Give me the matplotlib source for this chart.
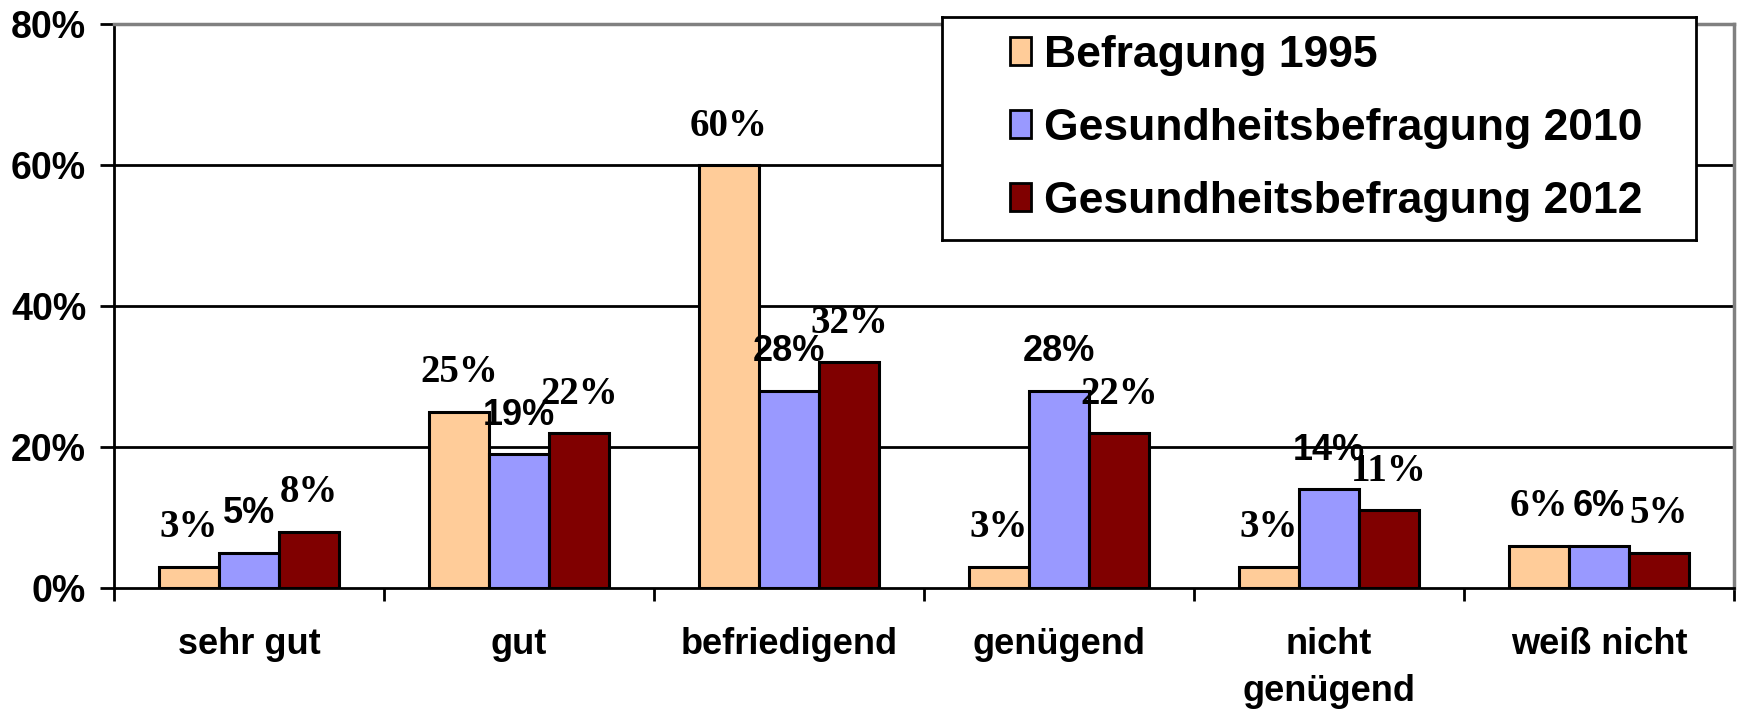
import matplotlib.pyplot as plt
from matplotlib.patches import Patch
import numpy as np

# Survey answers per rating category (share of respondents, in %)
categories = ["sehr gut", "gut", "befriedigend", "genügend", "nicht\ngenügend", "weiß nicht"]
series_names = ["Befragung 1995", "Gesundheitsbefragung 2010", "Gesundheitsbefragung 2012"]
values_1995 = [3, 25, 60, 3, 3, 6]
values_2010 = [5, 19, 28, 28, 14, 6]
values_2012 = [8, 22, 32, 22, 11, 5]
yticks = [0, 20, 40, 60, 80]

colors = ["#FFCC99", "#9999FF", "#800000"]
label_fonts = ["Liberation Serif", "Liberation Sans", "Liberation Serif"]
label_sizes = [28, 26, 28]

W, H = 1737, 710
fig = plt.figure(figsize=(W / 100, H / 100), dpi=100)
ax = fig.add_axes([114 / W, 1 - 588 / H, 1620 / W, 564 / H])

x = np.arange(len(categories))
width = 0.222
all_values = [values_1995, values_2010, values_2012]

for i, (vals, col, name) in enumerate(zip(all_values, colors, series_names)):
    pos = x + (i - 1) * width
    ax.bar(pos, vals, width, color=col, edgecolor="black", linewidth=2.2,
           label=name, zorder=3)
    # value labels above each bar
    for px, v in zip(pos, vals):
        ax.annotate(f"{v}%", (px, v), xytext=(0, 28), textcoords="offset points",
                    ha="center", va="center", fontsize=label_sizes[i], fontweight="bold",
                    family=label_fonts[i], color="black", zorder=5)

ax.set_xlim(-0.5, len(categories) - 0.5)
ax.set_ylim(0, 80)
ax.set_yticks(yticks)
ax.set_yticklabels([f"{t}%" for t in yticks], fontsize=27, fontweight="bold",
                   family="Liberation Sans")
ax.set_xticks(x)
ax.set_xticklabels(categories, fontsize=26, fontweight="bold", family="Liberation Sans",
                   linespacing=1.45, va="top")
ax.tick_params(axis="x", length=0, pad=28)
ax.tick_params(axis="y", length=10, width=2, pad=10)

# category separators as minor ticks below the axis
ax.set_xticks(np.arange(len(categories) + 1) - 0.5, minor=True)
ax.tick_params(axis="x", which="minor", length=9, width=2, direction="out")

# horizontal gridlines
for t in yticks[1:-1]:
    ax.axhline(t, color="black", linewidth=2, zorder=1)

for side in ["left", "bottom"]:
    ax.spines[side].set_color("black")
    ax.spines[side].set_linewidth(2)
for side in ["top", "right"]:
    ax.spines[side].set_color("#808080")
    ax.spines[side].set_linewidth(2.5)

# legend in its own framed box
lax = fig.add_axes([942 / W, 1 - 240 / H, 754 / W, 223 / H], zorder=10)
lax.set_xticks([])
lax.set_yticks([])
for sp in lax.spines.values():
    sp.set_linewidth(2)
    sp.set_color("black")
handles = [Patch(facecolor=c, edgecolor="black", linewidth=2) for c in colors]
lax.legend(handles, series_names, loc="center left", bbox_to_anchor=(0.09, 0.5),
           frameon=False, borderpad=0, borderaxespad=0,
           prop={"family": "Liberation Sans", "weight": "bold", "size": 32},
           handlelength=0.47, handleheight=0.6, handletextpad=0.3,
           labelspacing=0.72)

fig.savefig("out.png", dpi=100, facecolor="white")
